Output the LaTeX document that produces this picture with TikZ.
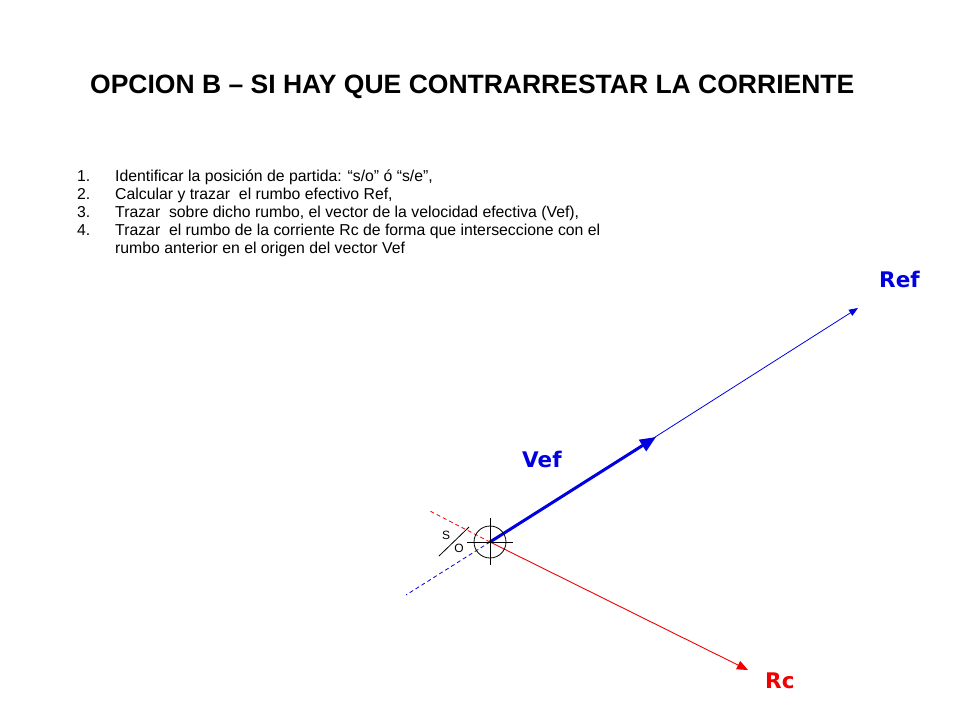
\documentclass[tikz,border=0pt]{standalone}
\usepackage{fontspec}
\setmainfont{Liberation Sans}
\newfontfamily\labelfont{DejaVu Sans}
\usetikzlibrary{arrows.meta}
\definecolor{myblue}{RGB}{0,0,225}
\definecolor{myred}{RGB}{240,0,0}
\tikzset{
  itemtxt/.style={anchor=base west, inner sep=0pt, font=\fontsize{15.8}{18}\selectfont},
  biglabel/.style={anchor=base west, inner sep=0pt, font=\labelfont\fontsize{21.5}{26}\selectfont\bfseries},
  thinref/.style={draw=myblue, line width=0.8pt, -{Triangle[length=9pt,width=7pt]}},
  vefvec/.style={draw=myblue, line width=3pt, -{Triangle[length=16pt,width=13pt]}},
  rcvec/.style={draw=myred, line width=0.9pt, -{Triangle[length=11pt,width=9pt]}},
  reddash/.style={draw=myred, line width=0.8pt, dash pattern=on 4pt off 3pt},
  bluedash/.style={draw=myblue, line width=0.8pt, dash pattern=on 4pt off 3pt},
  fixmark/.style={draw=black, line width=0.8pt},
}
\begin{document}
\begin{tikzpicture}[x=1pt,y=-1pt]
\useasboundingbox (0,0) rectangle (960,720);
% title
\node[anchor=base west, inner sep=0pt, font=\fontsize{26.5}{30}\selectfont\bfseries] (title) at (90,93) {OPCION B – SI HAY QUE CONTRARRESTAR LA CORRIENTE};
% list
\node[itemtxt] (n1) at (77,181) {1.};
\node[itemtxt] (n2) at (77,199) {2.};
\node[itemtxt] (n3) at (77,217) {3.};
\node[itemtxt] (n4) at (77,235) {4.};
\node[itemtxt] (t1) at (115,181) {Identificar la posición de partida: “s/o” ó “s/e”,};
\node[itemtxt] (t2) at (115,199) {Calcular y trazar\ \ el rumbo efectivo Ref,};
\node[itemtxt] (t3) at (115,217) {Trazar\ \ sobre dicho rumbo, el vector de la velocidad efectiva (Vef),};
\node[itemtxt] (t4) at (115,235) {Trazar\ \ el rumbo de la corriente Rc de forma que interseccione con el};
\node[itemtxt] (t5) at (115,253) {rumbo anterior en el origen del vector Vef};
% geometry
\coordinate (o) at (490,542);
\coordinate (refend) at (858,308);
\coordinate (vefend) at (656,437);
\coordinate (rcend) at (748,670);
\coordinate (rdash) at (428,510);
\coordinate (bdash) at (406,595);
\coordinate (hl) at (467,542);
\coordinate (hr) at (513,542);
\coordinate (vt) at (490,518);
\coordinate (vb) at (490,565);
\coordinate (sa) at (439,556);
\coordinate (sb) at (469,527);
\draw[reddash] (o) -- (rdash);
\draw[bluedash] (o) -- (bdash);
\draw[rcvec] (o) -- (rcend);
\draw[thinref] (o) -- (refend);
\draw[vefvec] (o) -- (vefend);
\node[circle, fixmark, minimum size=32pt, inner sep=0pt] (fix) at (o) {};
\draw[fixmark] (hl) -- (hr);
\draw[fixmark] (vt) -- (vb);
\draw[fixmark] (sa) -- (sb);
\node[inner sep=0pt, font=\fontsize{12}{14}\selectfont] (s) at (446,535) {S};
\node[inner sep=0pt, font=\fontsize{12}{14}\selectfont] (oo) at (459,548) {O};
% labels
\node[biglabel, text=myblue] (lref) at (879,287) {Ref};
\node[biglabel, text=myblue] (lvef) at (522,467) {Vef};
\node[biglabel, text=myred] (lrc) at (765,688) {Rc};
\end{tikzpicture}
\end{document}
